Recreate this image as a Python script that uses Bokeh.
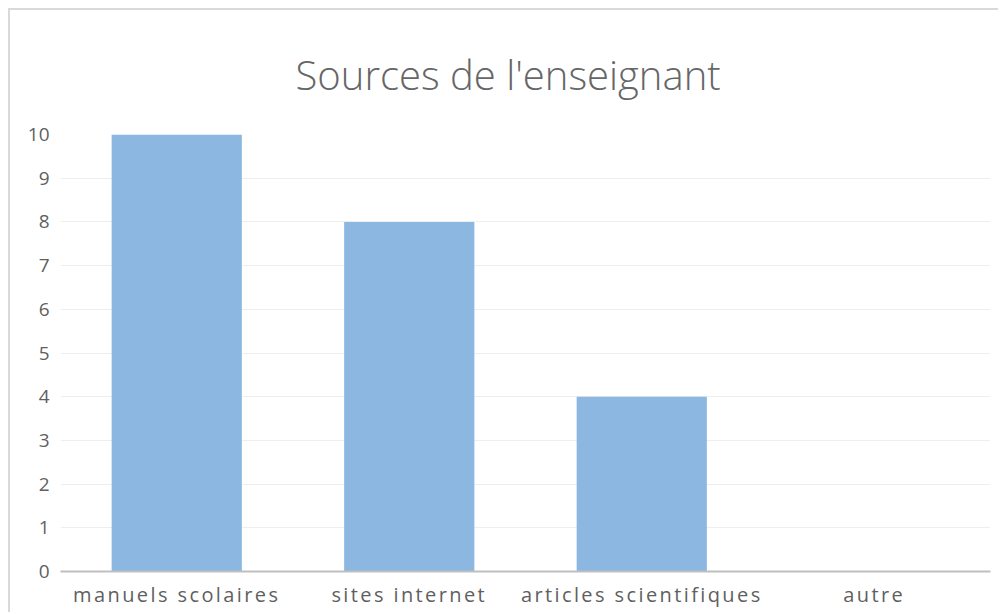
from bokeh.plotting import figure
from bokeh.layouts import column
from bokeh.models import Range1d, FixedTicker, ColumnDataSource, Title, CustomJS
from bokeh.document import Document
from bokeh.events import DocumentReady
from bokeh.embed import file_html
from bokeh.resources import INLINE

categories = ["manuels scolaires", "sites internet", "articles scientifiques", "autre"]
values = [10, 8, 4, 0]
y_ticks = [0, 1, 2, 3, 4, 5, 6, 7, 8, 9, 10]
title_text = "Sources de l'enseignant"

FONT = "Open Sans"
TXT = "#5f5f5f"

source = ColumnDataSource(data=dict(cat=categories, val=values))

p = figure(
    x_range=categories,
    y_range=Range1d(0, 10),
    width=990, height=604,
    output_backend="svg", toolbar_location=None,
    min_border_left=50, min_border_right=10, min_border_top=124, min_border_bottom=43,
    outline_line_color=None,
    styles={"border-left": "2px solid #d9d9d9", "border-top": "2px solid #d9d9d9"},
)
p.margin = (8, 0, 0, 8)

p.title = Title(text=title_text, align="left", offset=235, text_font=FONT,
                text_font_size="40px", text_font_style="normal", text_color="#666666",
                vertical_align="top", standoff=62)

p.vbar(x="cat", top="val", width=0.56, source=source,
       fill_color="#8BB7E0", line_color=None)

p.x_range.range_padding = 0
p.xgrid.grid_line_color = None
p.ygrid.grid_line_color = "#eeeeee"
p.ygrid.grid_line_width = 1
p.yaxis.ticker = FixedTicker(ticks=y_ticks)

p.yaxis.axis_line_color = None
p.yaxis.major_tick_line_color = None
p.yaxis.minor_tick_line_color = None
p.yaxis.major_label_text_font = FONT
p.yaxis.major_label_text_font_size = "19px"
p.yaxis.major_label_text_color = TXT
p.yaxis.major_label_standoff = 5

p.xaxis.axis_line_color = "#bfbfbf"
p.xaxis.axis_line_width = 2
p.xaxis.major_tick_line_color = None
p.xaxis.minor_tick_line_color = None
p.xaxis.major_label_text_font = FONT
p.xaxis.major_label_text_font_size = "20px"
p.xaxis.major_label_text_color = TXT
p.xaxis.major_label_standoff = 3

layout = column(p)

js = """
const cats = new Set(labels);
const LS = 2.4;
function walk(root, out) {
  root.querySelectorAll('*').forEach(el => {
    if (el.tagName && el.tagName.toLowerCase() === 'text') out.push(el);
    if (el.shadowRoot) walk(el.shadowRoot, out);
  });
}
function apply() {
  try {
    const out = [];
    walk(document, out);
    out.forEach(t => {
      if (t.getAttribute('data-done') === '1') return;
      const s = t.textContent;
      if (cats.has(s)) {
        t.style.letterSpacing = LS + 'px';
        const anchor = t.getAttribute('text-anchor');
        if (anchor !== 'middle') {
          const x = parseFloat(t.getAttribute('x'));
          if (!isNaN(x)) t.setAttribute('x', String(x - LS * s.length / 2));
        }
        t.setAttribute('data-done', '1');
      } else if (s === ttl) {
        t.style.fontWeight = '300';
        t.setAttribute('data-done', '1');
      }
    });
  } catch (e) {}
}
apply();
let n = 0;
const h = setInterval(() => { apply(); n += 1; if (n > 60) clearInterval(h); }, 50);
"""

doc = Document()
doc.add_root(layout)
doc.js_on_event(DocumentReady, CustomJS(args=dict(labels=categories, ttl=title_text), code=js))

open("out.html", "w").write(file_html(doc, INLINE))
